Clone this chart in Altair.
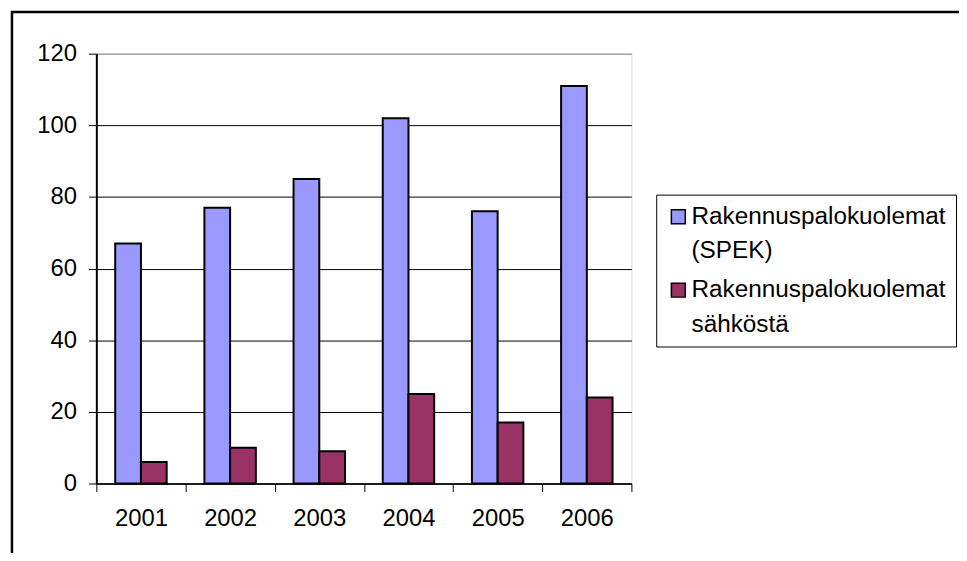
import altair as alt
import pandas as pd

years = ["2001", "2002", "2003", "2004", "2005", "2006"]
series = ["Rakennuspalokuolemat|(SPEK)", "Rakennuspalokuolemat|sähköstä"]
spek = [67, 77, 85, 102, 76, 111]
elec = [6, 10, 9, 25, 17, 24]
colors = ["#9999FF", "#993366"]
y_ticks = [0, 20, 40, 60, 80, 100, 120]

rows = []
for i, yr in enumerate(years):
    rows.append({"year": yr, "series": series[0], "value": spek[i]})
    rows.append({"year": yr, "series": series[1], "value": elec[i]})
df = pd.DataFrame(rows)

FONT = "Liberation Sans"

bars = alt.Chart(df).mark_bar(stroke="black", strokeWidth=2).encode(
    x=alt.X(
        "year:N", sort=years,
        scale=alt.Scale(paddingInner=0, paddingOuter=0),
        axis=alt.Axis(title=None, labelAngle=0, tickBand="extent", tickSize=8,
                      tickColor="black", tickWidth=1, domainColor="black", domainWidth=1.5,
                      labelFont=FONT, labelFontSize=24, labelColor="black",
                      labelPadding=15, grid=False),
    ),
    xOffset=alt.XOffset("series:N", sort=series,
                        scale=alt.Scale(paddingInner=0, paddingOuter=0.733)),
    y=alt.Y(
        "value:Q",
        scale=alt.Scale(domain=[0, 120], nice=False),
        axis=alt.Axis(title=None, values=y_ticks, tickSize=8, tickColor="black",
                      domainColor="black", domainWidth=2,
                      labelFont=FONT, labelFontSize=24, labelColor="black",
                      labelPadding=12, grid=True,
                      gridColor={"condition": {"test": "datum.value == 120", "value": "#808080"},
                                 "value": "black"},
                      gridWidth=1),
    ),
    color=alt.Color(
        "series:N", sort=series,
        scale=alt.Scale(domain=series, range=colors),
        legend=alt.Legend(
            title=None, orient="none", legendX=564, legendY=142,
            strokeColor="black", fillColor="white", padding=10,
            symbolType="square", symbolSize=196, symbolStrokeColor="black",
            symbolStrokeWidth=1.5, labelFont=FONT, labelFontSize=24.5,
            labelColor="black", labelLimit=400, labelOffset=1, rowPadding=14,
            labelExpr="split(datum.label, '|')",
        ),
    ),
)

frame = alt.Chart(pd.DataFrame({"f": [0]})).mark_rect(
    filled=False, stroke="black", strokeWidth=2.5
).encode(
    x=alt.value(-85), x2=alt.value(3000), y=alt.value(-42), y2=alt.value(3000)
)

chart = alt.layer(bars, frame).properties(
    width=539, height=433,
    autosize=alt.AutoSizeParams(type="none"),
    padding={"left": 89, "top": 44, "right": 330, "bottom": 68},
).configure_view(
    fill="#C0C0C0", stroke="#808080", strokeWidth=1.5
).configure(
    style={"guide-label": {"lineHeight": 35}}
)

chart.save("out.html", embed_options={"renderer": "svg", "actions": False})
